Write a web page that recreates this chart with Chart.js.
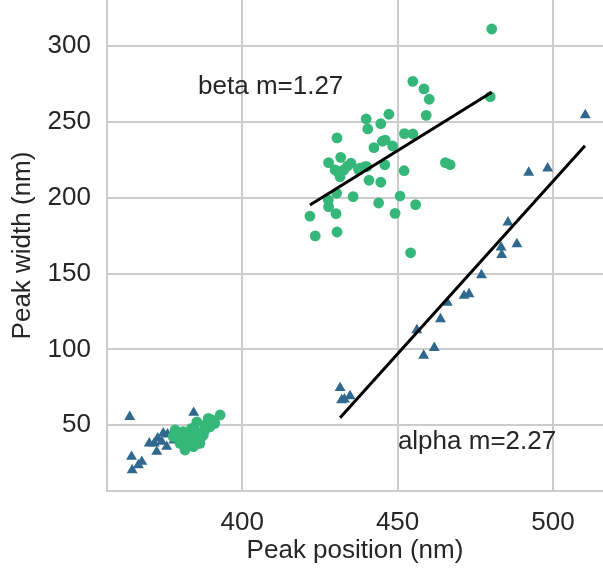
<!DOCTYPE html>
<html>
<head>
<meta charset="utf-8">
<script src="https://cdn.jsdelivr.net/npm/chart.js@4.4.1/dist/chart.umd.min.js"></script>
<style>
  html, body { margin: 0; padding: 0; background: #fff; }
  #wrap { width: 603px; height: 571px; }
</style>
</head>
<body>
<div id="wrap"><canvas id="chart1"></canvas></div>
<script>
"use strict";

// alpha peaks (triangles)
var alphaX = [510.4, 498.3, 492.2, 485.5, 488.4, 483.3, 483.5, 477.0, 473.0, 471.4, 466.0, 463.8,
  456.2, 461.8, 458.4, 431.5, 432.9, 434.7, 432.0,
  363.8, 384.4, 364.4, 364.6, 367.7, 366.6, 370.1, 372.5, 372.8, 374.6, 375.7, 371.7, 374.1,
  378.0, 380.0, 376.0];
var alphaY = [254.4, 219.4, 216.5, 183.8, 169.5, 167.3, 162.4, 149.0, 136.5, 135.4, 130.8, 120.0,
  112.8, 101.1, 95.9, 74.6, 67.1, 69.3, 66.6,
  55.6, 58.3, 29.3, 20.5, 26.0, 23.8, 38.1, 32.6, 41.4, 44.7, 35.9, 38.1, 39.2,
  40.0, 42.0, 44.0];

// beta peaks (circles)
var betaX = [378.4, 377.8, 380.0, 381.6, 382.7, 384.8, 386.4, 385.9, 388.0, 389.6, 391.2, 392.9,
  389.1, 385.4, 383.7, 382.1, 387.0, 379.4, 380.5, 384.3, 387.5, 390.2, 384.8, 383.2, 381.0, 388.0,
  454.9, 458.5, 460.2, 459.2, 439.9, 447.2, 444.6, 440.4, 430.5, 452.2, 454.9, 446.0, 445.1, 442.4,
  448.4, 431.7, 427.8, 435.0, 433.9, 430.5, 432.7, 431.5, 437.4, 440.1, 445.9, 452.1, 465.4, 466.9,
  440.8, 444.6, 430.4, 435.7, 427.7, 427.8, 430.2, 443.9, 450.8, 455.8, 449.2, 421.8, 423.5, 430.5,
  454.2, 479.8, 480.3, 429.9, 437.9, 439.5];
var betaY = [46.9, 42.5, 38.1, 33.7, 38.1, 40.3, 38.1, 44.7, 46.9, 49.0, 51.3, 56.8,
  54.6, 52.3, 48.0, 44.7, 42.5, 43.6, 40.3, 35.9, 43.6, 53.5, 46.9, 42.5, 45.8, 50.2,
  276.7, 271.7, 264.9, 254.3, 251.9, 255.0, 248.8, 245.3, 239.4, 242.2, 242.0, 238.0, 237.2, 233.0,
  234.1, 226.6, 223.1, 222.7, 220.9, 217.4, 218.3, 213.8, 218.7, 220.4, 221.7, 217.8, 223.1, 221.8,
  211.5, 210.2, 202.9, 200.7, 198.5, 194.1, 189.5, 196.5, 201.1, 195.4, 189.7, 187.9, 174.8, 177.4,
  163.7, 266.6, 311.2, 218.3, 219.4, 220.4];

// fitted lines (end points)
var betaFitX = [421.8, 480.3];
var betaFitY = [195.2, 269.5];
var alphaFitX = [431.5, 510.3];
var alphaFitY = [55.0, 234.3];

var xTicks = [400, 450, 500];
var yTicks = [50, 100, 150, 200, 250, 300];

var notes = [
  { text: 'beta m=1.27', x: 385.8, y: 268.4 },
  { text: 'alpha m=2.27', x: 450.1, y: 34.3 }
];

function pts(xs, ys) {
  return xs.map(function(v, i) { return { x: v, y: ys[i] }; });
}

var FONT = "'Liberation Sans', Arial, sans-serif";
var TXT = '#262626';
var GRID = '#cccccc';

var notePlugin = {
  id: 'notes',
  afterDatasetsDraw: function(chart) {
    var ctx = chart.ctx;
    ctx.save();
    ctx.font = '26px ' + FONT;
    ctx.fillStyle = TXT;
    ctx.textAlign = 'left';
    ctx.textBaseline = 'alphabetic';
    notes.forEach(function(n) {
      ctx.fillText(n.text, chart.scales.x.getPixelForValue(n.x), chart.scales.y.getPixelForValue(n.y));
    });
    ctx.restore();
  }
};

var ctx = document.getElementById('chart1').getContext('2d');
var myChart = new Chart(ctx, {
  type: 'scatter',
  data: {
    datasets: [{
      label: 'beta fit',
      type: 'line',
      data: pts(betaFitX, betaFitY),
      borderColor: '#000',
      borderWidth: 3,
      pointRadius: 0,
      order: 0
    }, {
      label: 'alpha fit',
      type: 'line',
      data: pts(alphaFitX, alphaFitY),
      borderColor: '#000',
      borderWidth: 3,
      pointRadius: 0,
      order: 0
    }, {
      label: 'beta',
      data: pts(betaX, betaY),
      pointStyle: 'circle',
      pointRadius: 5.4,
      backgroundColor: '#35b779',
      borderWidth: 0,
      order: 1
    }, {
      label: 'alpha',
      data: pts(alphaX, alphaY),
      pointStyle: 'triangle',
      pointRadius: 6.3,
      backgroundColor: '#31688e',
      borderWidth: 0,
      order: 2
    }]
  },
  options: {
    responsive: true,
    maintainAspectRatio: false,
    animation: false,
    layout: { padding: 0, autoPadding: false },
    plugins: {
      legend: { display: false },
      tooltip: { enabled: false }
    },
    scales: {
      x: {
        type: 'linear',
        min: 356.5,
        max: 516.1,
        afterBuildTicks: function(s) { s.ticks = xTicks.map(function(v) { return { value: v }; }); },
        afterFit: function(s) { s.height = 80; s.paddingLeft = 0; s.paddingRight = 0; },
        ticks: { color: TXT, font: { family: FONT, size: 26 }, padding: 16, maxRotation: 0 },
        grid: { color: GRID, lineWidth: 2, drawTicks: false },
        border: { display: true, color: GRID, width: 2 },
        title: { display: true, text: 'Peak position (nm)', color: TXT, font: { family: FONT, size: 26 }, padding: { top: 0, bottom: 5 } }
      },
      y: {
        type: 'linear',
        min: 6.7,
        max: 330.3,
        afterBuildTicks: function(s) { s.ticks = yTicks.map(function(v) { return { value: v }; }); },
        afterFit: function(s) { s.width = 107; s.paddingTop = 0; s.paddingBottom = 0; },
        ticks: { color: TXT, font: { family: FONT, size: 26 }, padding: 16 },
        grid: { color: GRID, lineWidth: 2, drawTicks: false },
        border: { display: true, color: GRID, width: 2 },
        title: { display: true, text: 'Peak width (nm)', color: TXT, font: { family: FONT, size: 26 }, padding: { top: 7, bottom: 0 } }
      }
    }
  },
  plugins: [notePlugin]
});
</script>
</body>
</html>
